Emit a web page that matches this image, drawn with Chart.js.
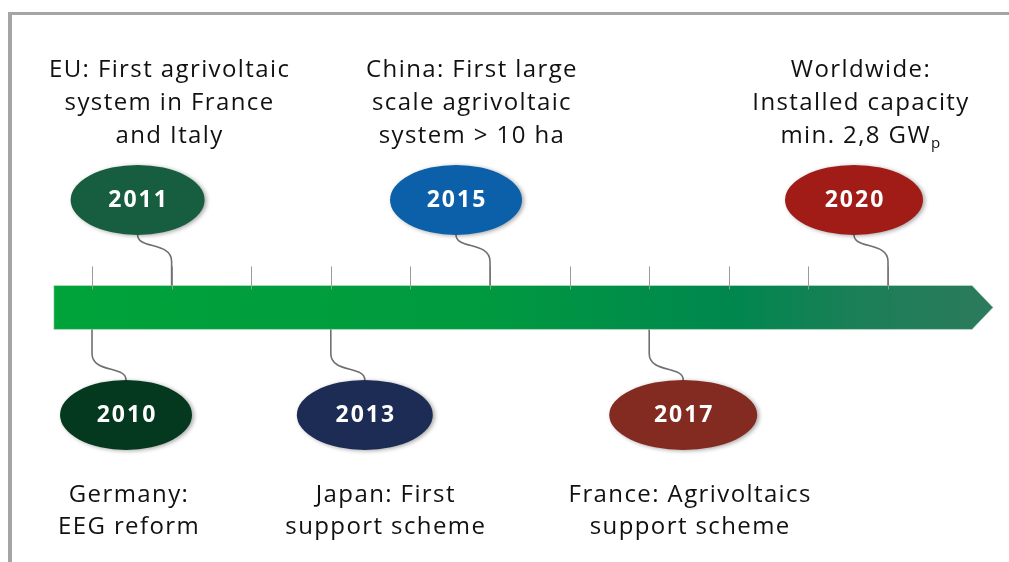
<!DOCTYPE html>
<html>
<head>
<meta charset="utf-8">
<script src="https://cdn.jsdelivr.net/npm/chart.js@4/dist/chart.umd.min.js"></script>
<style>
  html, body { margin: 0; padding: 0; background: #ffffff; }
  #wrap { width: 1009px; height: 562px; }
</style>
</head>
<body>
<div id="wrap"><canvas id="timeline" width="1009" height="562"></canvas></div>
<script>
// Timeline data
var tickYears = [2010, 2011, 2012, 2013, 2014, 2015, 2016, 2017, 2018, 2019, 2020];
var eventYears = [2010, 2011, 2013, 2015, 2017, 2020];
var eventSide = [-1, 1, -1, 1, -1, 1]; // 1 = above the arrow, -1 = below
var eventLabels = [
    ["Germany:", "EEG reform"],
    ["EU: First agrivoltaic", "system in France", "and Italy"],
    ["Japan: First", "support scheme"],
    ["China: First large", "scale agrivoltaic", "system > 10 ha"],
    ["France: Agrivoltaics", "support scheme"],
    ["Worldwide:", "Installed capacity", "min. 2,8 GW"]
];

// Styling (kept apart from the data)
var eventColors = ["#04391f", "#175e40", "#1c2c54", "#0c60aa", "#832a21", "#a11c17"];
var ellipseRx = [66, 67, 68, 66, 74, 69];
var labelShift = [3, 32, 21, 16, 7, 7];
var FONT = "'Open Sans', 'Noto Sans', sans-serif";

function setSpacing(ctx, px) {
    if ("letterSpacing" in ctx) {
        ctx.letterSpacing = px + "px";
    }
}

// ✅ Plugin that draws the arrow, ticks, connectors, bubbles and captions
var timelinePlugin = {
    id: "timeline",
    beforeDatasetsDraw: function (chart) {
        var ctx = chart.ctx;
        var x = chart.scales.x;
        var y = chart.scales.y;

        // frame
        ctx.save();
        ctx.fillStyle = "#a5a5a5";
        ctx.fillRect(8, 12, 1001, 3);
        ctx.fillRect(8, 12, 4, 550);

        // arrow bar
        var left = x.getPixelForValue(2009.52);
        var tip = x.getPixelForValue(2021.32);
        var bodyEnd = tip - 21;
        var mid = y.getPixelForValue(0);
        var top = mid - 22, bottom = mid + 22;
        var grad = ctx.createLinearGradient(left, 0, tip, 0);
        grad.addColorStop(0, "#00a33a");
        grad.addColorStop(0.45, "#009a3f");
        grad.addColorStop(0.72, "#00874e");
        grad.addColorStop(0.85, "#1a7f57");
        grad.addColorStop(1, "#2c7a5c");
        ctx.beginPath();
        ctx.moveTo(left, top);
        ctx.lineTo(bodyEnd, top);
        ctx.lineTo(tip, mid);
        ctx.lineTo(bodyEnd, bottom);
        ctx.lineTo(left, bottom);
        ctx.closePath();
        ctx.fillStyle = grad;
        ctx.fill();
        ctx.strokeStyle = "rgba(200,230,210,0.6)";
        ctx.lineWidth = 1;
        ctx.stroke();

        // year ticks above the bar
        ctx.strokeStyle = "#9a9a9a";
        ctx.lineWidth = 1;
        tickYears.forEach(function (yr) {
            var px = Math.round(x.getPixelForValue(yr)) + 0.5;
            ctx.beginPath();
            ctx.moveTo(px, top - 19);
            ctx.lineTo(px, top + 4);
            ctx.stroke();
        });

        // connectors
        ctx.strokeStyle = "#707070";
        ctx.lineWidth = 1.6;
        eventYears.forEach(function (yr, i) {
            var px = x.getPixelForValue(yr);
            var s = eventSide[i];
            var ex = px - s * 34;
            var ey = y.getPixelForValue(s);
            ctx.beginPath();
            if (s > 0) {
                var eb = ey + 35;
                ctx.moveTo(px, top);
                ctx.lineTo(px, top - 24);
                ctx.bezierCurveTo(px, top - 44, ex, top - 36, ex, eb);
            } else {
                var et = ey - 35;
                ctx.moveTo(px, bottom);
                ctx.lineTo(px, bottom + 24);
                ctx.bezierCurveTo(px, bottom + 44, ex, bottom + 36, ex, et);
            }
            ctx.stroke();
        });
        ctx.restore();
    },
    afterDatasetsDraw: function (chart) {
        var ctx = chart.ctx;
        var meta = chart.getDatasetMeta(0);
        ctx.save();
        meta.data.forEach(function (pt, i) {
            var s = eventSide[i];
            var cx = pt.x - s * 34;
            var cy = pt.y;

            // bubble
            ctx.save();
            ctx.shadowColor = "rgba(0,0,0,0.35)";
            ctx.shadowBlur = 4;
            ctx.shadowOffsetX = 2;
            ctx.shadowOffsetY = 1;
            ctx.beginPath();
            ctx.ellipse(cx, cy, ellipseRx[i], 35, 0, 0, Math.PI * 2);
            ctx.fillStyle = eventColors[i];
            ctx.fill();
            ctx.restore();

            ctx.fillStyle = "#ffffff";
            ctx.font = "bold 23px " + FONT;
            setSpacing(ctx, 2);
            ctx.textAlign = "center";
            ctx.textBaseline = "middle";
            ctx.fillText(String(eventYears[i]), cx + 1, cy + 1);

            // caption
            var lines = eventLabels[i];
            var tx = cx + labelShift[i];
            ctx.fillStyle = "#111111";
            ctx.font = "24px " + FONT;
            setSpacing(ctx, 1.4);
            ctx.textBaseline = "alphabetic";
            lines.forEach(function (line, k) {
                var base;
                if (s > 0) {
                    base = cy - 57 - (lines.length - 1 - k) * 33;
                } else {
                    base = cy + 87 + k * 32;
                }
                if (eventYears[i] === 2020 && k === lines.length - 1) {
                    // subscript p after GW
                    ctx.font = "24px " + FONT;
                    var w = ctx.measureText(line).width;
                    ctx.font = "15px " + FONT;
                    var ws = ctx.measureText("p").width;
                    var startX = tx - (w + ws) / 2;
                    ctx.textAlign = "left";
                    ctx.font = "24px " + FONT;
                    ctx.fillText(line, startX, base);
                    ctx.font = "15px " + FONT;
                    ctx.fillText("p", startX + w, base + 5);
                    ctx.textAlign = "center";
                    ctx.font = "24px " + FONT;
                } else {
                    ctx.fillText(line, tx, base);
                }
            });
        });
        ctx.restore();
    }
};

document.addEventListener("DOMContentLoaded", function () {
    var canvas = document.getElementById("timeline");
    if (!canvas) {
        console.error("Canvas not found!");
        return;
    }
    new Chart(canvas.getContext("2d"), {
        type: "scatter",
        data: {
            datasets: [{
                label: "Milestones",
                data: eventYears.map(function (yr, i) { return { x: yr, y: eventSide[i] }; }),
                pointRadius: 0,
                pointHoverRadius: 0
            }]
        },
        options: {
            responsive: false,
            animation: false,
            layout: { padding: 0 },
            plugins: { legend: { display: false }, tooltip: { enabled: false } },
            scales: {
                x: { type: "linear", display: false, min: 2008.844, max: 2021.52 },
                y: { type: "linear", display: false, min: -2.368, max: 2.860 }
            }
        },
        plugins: [timelinePlugin]
    });
});
</script>
</body>
</html>
